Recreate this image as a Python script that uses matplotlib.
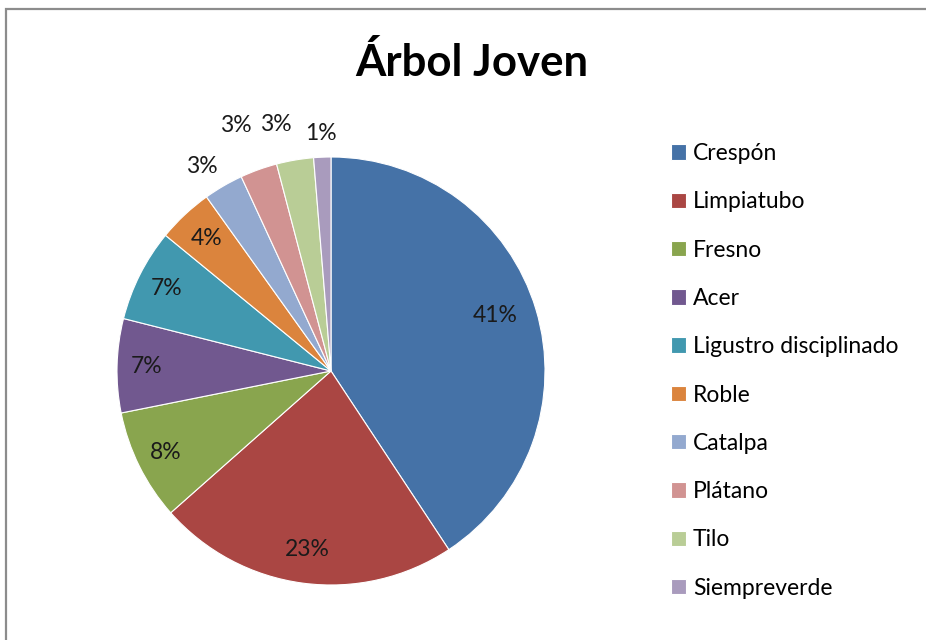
import matplotlib.pyplot as plt
import numpy as np
from matplotlib.patches import Rectangle

# Data
species = ['Crespón', 'Limpiatubo', 'Fresno', 'Acer', 'Ligustro disciplinado',
           'Roble', 'Catalpa', 'Plátano', 'Tilo', 'Siempreverde']
shares = [40.8, 22.8, 8.4, 7.1, 7.0, 4.2, 3.0, 2.8, 2.8, 1.3]
colors = ['#4572A7', '#AA4643', '#89A54E', '#71588F', '#4198AF',
          '#DB843D', '#93A9CF', '#D19392', '#B9CD96', '#A99BBD']
# label placement: distance from the centre (radii) and angular nudge (deg)
label_dist = [0.81, 0.84, 0.86, 0.86, 0.86, 0.85, 1.13, 1.23, 1.18, 1.11]
label_nudge = [2, 0, 0, 0, 0, 0, 2, 1.5, 3, 0]

plt.rcParams['font.family'] = ['Lato', 'DejaVu Sans']

fig = plt.figure(figsize=(9.26, 6.4), dpi=100)
fig.patches.append(Rectangle((6 / 926, -0.1), 1.2, (640 - 9) / 640 + 0.1,
                             transform=fig.transFigure, fill=False,
                             edgecolor='#8c8c8c', linewidth=1.6))

ax = fig.add_axes([117 / 926, 55 / 640, 428 / 926, 428 / 640])
wedges, _ = ax.pie(shares, colors=colors, startangle=90, counterclock=False,
                   wedgeprops=dict(linewidth=0.8, edgecolor='white'))
ax.set_xlim(-1, 1)
ax.set_ylim(-1, 1)
ax.set_aspect('equal')
ax.axis('off')

total = sum(shares)
for w, v, d, n in zip(wedges, shares, label_dist, label_nudge):
    ang = np.deg2rad((w.theta1 + w.theta2) / 2 + n)
    ax.text(d * np.cos(ang), d * np.sin(ang), '%.0f%%' % (v / total * 100),
            ha='center', va='center', fontsize=16.5, color='#1a1a1a', clip_on=False)

fig.text(472 / 926, 1 - 62 / 640, 'Árbol Joven', ha='center', va='center',
         fontsize=31.5, fontweight='bold', color='black')

fig.legend(wedges, species, loc='upper left', bbox_to_anchor=(662 / 926, 1 - 134 / 640),
           frameon=False, fontsize=16.5, handlelength=0.66, handleheight=0.66,
           handletextpad=0.28, labelspacing=1.19, borderaxespad=0)

fig.savefig('out.png', dpi=100, facecolor='white')
